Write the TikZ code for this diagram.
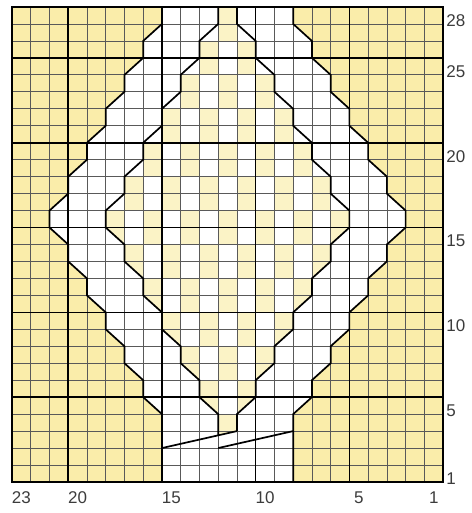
\documentclass[tikz,border=0pt]{standalone}
\usepackage{fontspec}
\setmainfont{Liberation Sans}
\definecolor{chartyellow}{RGB}{250,237,170}
\definecolor{mossyellow}{RGB}{251,243,198}
\definecolor{labelgray}{RGB}{60,60,60}
\begin{document}
\begin{tikzpicture}[x=18.74pt,y=16.96pt,
  thingrid/.style={draw=black!65,line width=0.75pt},
  majorline/.style={draw=black,line width=1.6pt},
  outlinepath/.style={draw=black,line width=1.7pt,line join=miter},
  framebox/.style={draw=black,line width=2pt},
  lbl/.style={font=\fontsize{17}{17}\selectfont,text=labelgray,inner sep=0pt}]
\useasboundingbox (-0.640,-1.828) rectangle (24.494,28.413);
% background
\fill[chartyellow] (0,0) rectangle (23,28);
% white leaf region (outer outline)
\fill[white] (8,28) -- (8,27) -- (7,26) -- (7,25) -- (6,24) -- (6,23) -- (5,22) -- (5,21) -- (4,20) -- (4,19) -- (3,18) -- (3,17) -- (2,16) -- (2,15) -- (3,14) -- (3,13) -- (4,12) -- (4,11) -- (5,10) -- (5,9) -- (6,8) -- (6,7) -- (7,6) -- (7,5) -- (8,4) -- (8,0) -- (15,0) -- (15,4) -- (16,5) -- (16,6) -- (17,7) -- (17,8) -- (18,9) -- (18,10) -- (19,11) -- (19,12) -- (20,13) -- (20,14) -- (21,15) -- (21,16) -- (20,17) -- (20,18) -- (19,19) -- (19,20) -- (18,21) -- (18,22) -- (17,23) -- (17,24) -- (16,25) -- (16,26) -- (15,27) -- (15,28) -- cycle;
% moss pattern inside inner outline
\begin{scope}
\clip (11,28) -- (11,27) -- (10,26) -- (10,25) -- (9,24) -- (9,23) -- (8,22) -- (8,21) -- (7,20) -- (7,19) -- (6,18) -- (6,17) -- (5,16) -- (5,15) -- (6,14) -- (6,13) -- (7,12) -- (7,11) -- (8,10) -- (8,9) -- (9,8) -- (9,7) -- (10,6) -- (10,5) -- (11,4) -- (11,2.75) -- (12,3) -- (12,4) -- (13,5) -- (13,6) -- (14,7) -- (14,8) -- (15,9) -- (15,10) -- (16,11) -- (16,12) -- (17,13) -- (17,14) -- (18,15) -- (18,16) -- (17,17) -- (17,18) -- (16,19) -- (16,20) -- (15,21) -- (15,22) -- (14,23) -- (14,24) -- (13,25) -- (13,26) -- (12,27) -- (12,28) -- cycle;
\foreach \c in {4,...,18}{
  \foreach \j in {0,...,27}{
    \pgfmathtruncatemacro\mossbit{mod(\c+floor(\j/2),2)}
    \ifnum\mossbit=0 \fill[mossyellow] (\c,\j) rectangle ++(1,1);\fi
  }
}
\end{scope}
% thin grid
\foreach \k in {1,...,22} \draw[thingrid] (\k,0) -- (\k,28);
\foreach \j in {1,...,27} \draw[thingrid] (0,\j) -- (23,\j);
% major lines
\foreach \k in {3,8,13,18} \draw[majorline] (\k,0) -- (\k,28);
\foreach \j in {5,10,15,20,25} \draw[majorline] (0,\j) -- (23,\j);
% outer outline
\draw[outlinepath] (8,28) -- (8,27) -- (7,26) -- (7,25) -- (6,24) -- (6,23) -- (5,22) -- (5,21) -- (4,20) -- (4,19) -- (3,18) -- (3,17) -- (2,16) -- (2,15) -- (3,14) -- (3,13) -- (4,12) -- (4,11) -- (5,10) -- (5,9) -- (6,8) -- (6,7) -- (7,6) -- (7,5) -- (8,4) -- (8,0);
\draw[outlinepath] (15,0) -- (15,4) -- (16,5) -- (16,6) -- (17,7) -- (17,8) -- (18,9) -- (18,10) -- (19,11) -- (19,12) -- (20,13) -- (20,14) -- (21,15) -- (21,16) -- (20,17) -- (20,18) -- (19,19) -- (19,20) -- (18,21) -- (18,22) -- (17,23) -- (17,24) -- (16,25) -- (16,26) -- (15,27) -- (15,28);
% inner outline
\draw[outlinepath] (11,28) -- (11,27) -- (10,26) -- (10,25) -- (9,24) -- (9,23) -- (8,22) -- (8,21) -- (7,20) -- (7,19) -- (6,18) -- (6,17) -- (5,16) -- (5,15) -- (6,14) -- (6,13) -- (7,12) -- (7,11) -- (8,10) -- (8,9) -- (9,8) -- (9,7) -- (10,6) -- (10,5) -- (11,4) -- (11,2.75);
\draw[outlinepath] (12,3) -- (12,4) -- (13,5) -- (13,6) -- (14,7) -- (14,8) -- (15,9) -- (15,10) -- (16,11) -- (16,12) -- (17,13) -- (17,14) -- (18,15) -- (18,16) -- (17,17) -- (17,18) -- (16,19) -- (16,20) -- (15,21) -- (15,22) -- (14,23) -- (14,24) -- (13,25) -- (13,26) -- (12,27) -- (12,28);
% stem lines
\draw[outlinepath] (8,2) -- (12,3);
\draw[outlinepath] (11,2) -- (15,3);
% frame
\draw[framebox] (0,0) rectangle (23,28);
% row labels
\foreach \r in {1,5,10,15,20,25,28}
  \node[lbl,anchor=west] (row\r) at (23.16,\r-0.8) {\r};
% column labels
\foreach \cl in {23,20,15,10,5,1}
  \node[lbl] (col\cl) at ({23-\cl+0.5},-0.91) {\cl};
\end{tikzpicture}
\end{document}
